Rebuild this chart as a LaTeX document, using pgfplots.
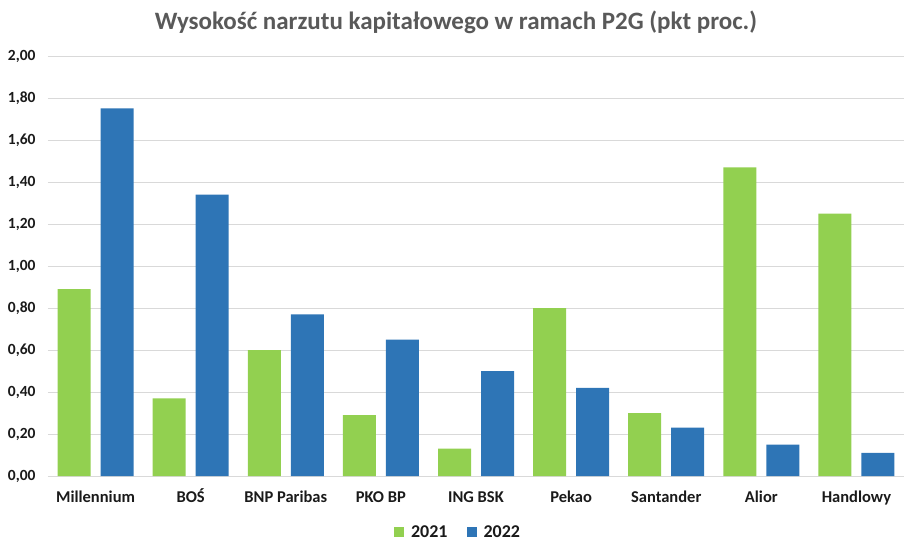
\documentclass[border=0pt]{standalone}
\usepackage{pgfplots}
\pgfplotsset{compat=1.18}
\usepackage{fontspec}
\setmainfont{Carlito}
\usetikzlibrary{calc}

\definecolor{g21}{HTML}{92D050}
\definecolor{b22}{HTML}{2E75B6}
\definecolor{gridgray}{HTML}{D9D9D9}
\definecolor{titlegray}{HTML}{595959}
\definecolor{txt}{HTML}{1A1A1A}

\begin{document}
\begin{tikzpicture}
\begin{axis}[
    scale only axis,
    width=856pt, height=420pt,
    ybar=10pt, bar width=33pt,
    xmin=-0.5, xmax=8.5,
    ymin=0, ymax=2,
    ytick={0,0.2,...,2.01},
    xtick=data,
    xticklabels={Millennium, BOŚ, BNP Paribas, PKO BP, ING BSK, Pekao, Santander, Alior, Handlowy},
    axis line style={draw=none},
    major tick length=0pt,
    ymajorgrids, grid style={gridgray, line width=0.8pt},
    /pgf/number format/.cd, fixed, fixed zerofill, precision=2, use comma, assume math mode=true,
    /pgfplots/.cd,
    ticklabel style={font=\fontsize{15.5}{18}\selectfont\bfseries, text=txt},
    yticklabel style={xshift=-9pt},
    xticklabel style={yshift=-11pt, text height=11.5pt, text depth=3pt,
                      font=\fontsize{16.5}{19}\selectfont\bfseries},
    title={Wysokość narzutu kapitałowego w ramach P2G (pkt proc.)},
    title style={at={(0.4766,1)}, anchor=center, yshift=28pt,
                 font=\fontsize{25}{29}\selectfont\bfseries, text=titlegray},
    legend columns=2,
    legend style={at={(0.482,-0.133)}, anchor=center, draw=none,
                  font=\fontsize{18}{21}\selectfont\bfseries, text=txt,
                  /tikz/every even column/.append style={column sep=12pt},
                  nodes={inner xsep=7pt}},
    legend image code/.code={\fill[#1] (0pt,-5pt) rectangle (10pt,5pt);},
]
\addplot[fill=g21, draw=none] coordinates {
(0,0.89) (1,0.37) (2,0.60) (3,0.29) (4,0.13) (5,0.80) (6,0.30) (7,1.47) (8,1.25)
};
\addlegendentry{2021}
\addplot[fill=b22, draw=none] coordinates {
(0,1.75) (1,1.34) (2,0.77) (3,0.65) (4,0.50) (5,0.42) (6,0.23) (7,0.15) (8,0.11)
};
\addlegendentry{2022}
\end{axis}
\pgfresetboundingbox
\useasboundingbox ($(current axis.south west)+(-48pt,-73pt)$) rectangle ($(current axis.north east)+(16pt,56pt)$);
\end{tikzpicture}
\end{document}
